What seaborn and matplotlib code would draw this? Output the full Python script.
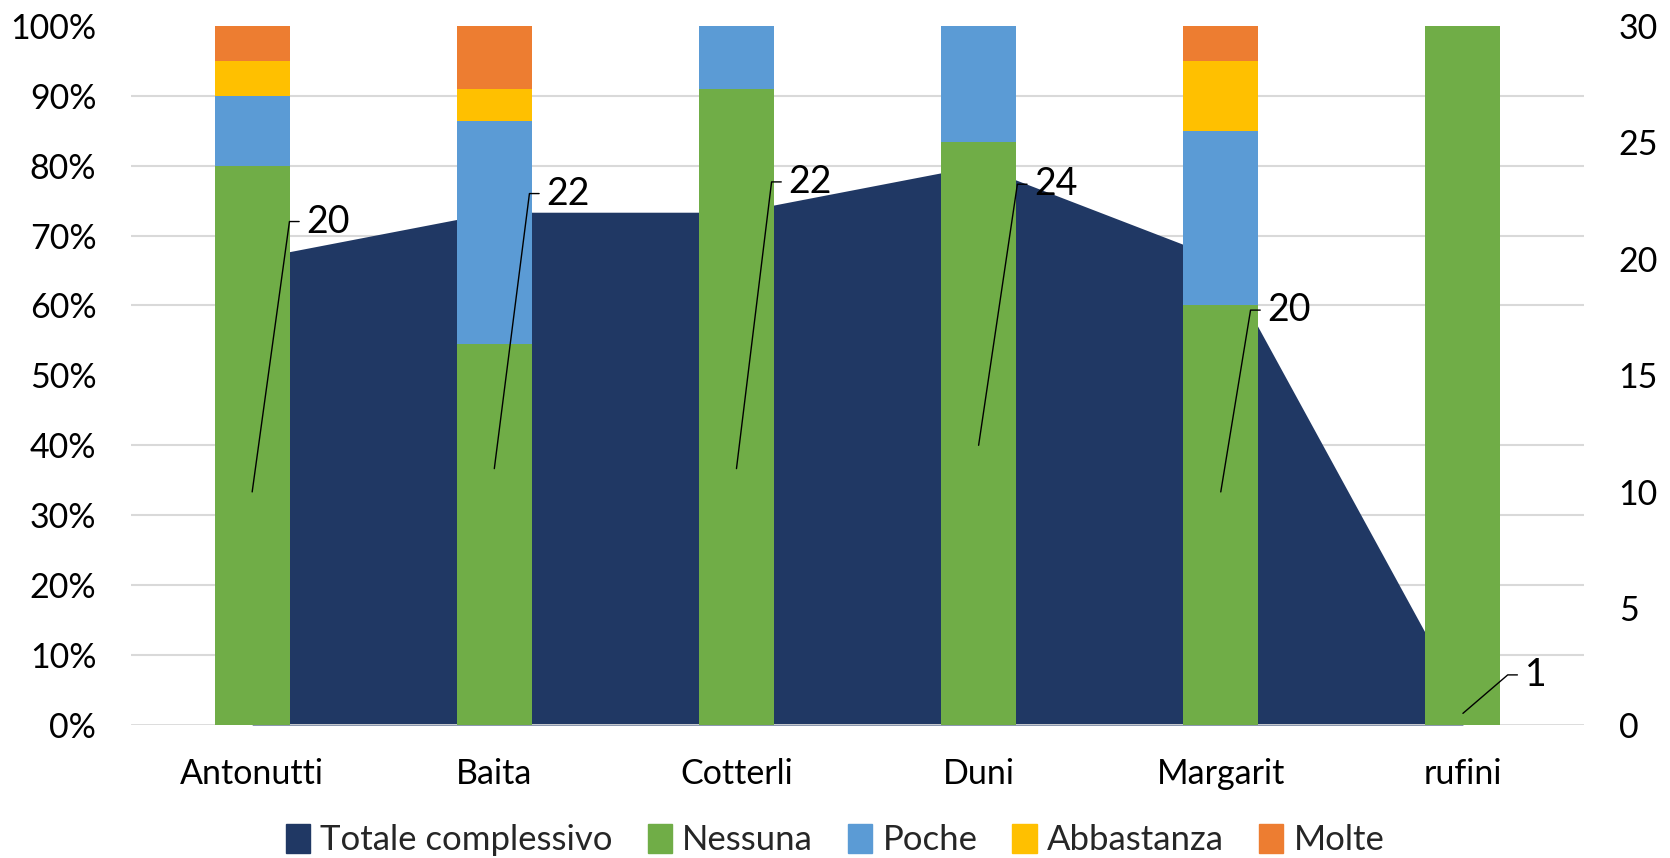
import pandas as pd
import matplotlib
matplotlib.use("Agg")
import matplotlib.pyplot as plt
from matplotlib.patches import Patch
from matplotlib.ticker import MultipleLocator, PercentFormatter
import seaborn as sns

# data (counts per risposta)
negozi = ["Antonutti", "Baita", "Cotterli", "Duni", "Margarit", "rufini"]
nessuna = [16, 12, 20, 20, 12, 1]
poche = [2, 7, 2, 4, 5, 0]
abbastanza = [1, 1, 0, 0, 2, 0]
molte = [1, 2, 0, 0, 1, 0]
totale = [20, 22, 22, 24, 20, 1]

livelli = ["Nessuna", "Poche", "Abbastanza", "Molte"]
colori = {"Nessuna": "#70AD47", "Poche": "#5B9BD5", "Abbastanza": "#FFC000", "Molte": "#ED7D31"}
navy = "#203864"

df = pd.DataFrame({"Negozio": negozi, "Nessuna": nessuna, "Poche": poche,
                   "Abbastanza": abbastanza, "Molte": molte})
quote = df[livelli].div(df[livelli].sum(axis=1), axis=0) * 100
cum = quote.cumsum(axis=1)
cum["Negozio"] = negozi

sns.set_theme(style="white")
plt.rcParams["font.family"] = ["Lato", "DejaVu Sans"]
FS = 24.5

fig = plt.figure(figsize=(16.7, 8.58), dpi=100)
ax = fig.add_axes([0.0785, 0.155, 0.87, 0.815])
ax2 = ax.twinx()
ax.set_zorder(ax2.get_zorder() + 1)
ax.patch.set_visible(False)

# area on the secondary axis (behind the bars)
ax2.fill_between(range(len(negozi)), totale, 0, color=navy, lw=0, zorder=2)
ax2.set_ylim(0, 30)
ax2.yaxis.set_major_locator(MultipleLocator(5))
ax2.yaxis.set_minor_locator(MultipleLocator(3))
ax2.grid(which="minor", color="#D9D9D9", lw=1.5, zorder=0)
ax2.grid(which="major", visible=False)
ax2.set_axisbelow(True)
ax2.tick_params(axis="y", which="both", length=0, labelsize=FS, labelcolor="black", pad=25)

# stacked 100% bars, tallest cumulative first
for liv in livelli[::-1]:
    sns.barplot(data=cum, x="Negozio", y=liv, color=colori[liv], width=0.31,
                saturation=1, linewidth=0, ax=ax, zorder=3)
ax.axhline(0, color="#D9D9D9", lw=2, zorder=2)

ax.set_ylim(0, 100)
ax.set_xlim(-0.5, len(negozi) - 0.5)
ax.yaxis.set_major_locator(MultipleLocator(10))
ax.yaxis.set_major_formatter(PercentFormatter(decimals=0))
ax.set_xlabel("")
ax.set_ylabel("")
ax.tick_params(axis="y", length=0, labelsize=FS, labelcolor="black", pad=25)
ax.tick_params(axis="x", length=0, labelsize=FS, labelcolor="black", pad=24)
for a in (ax, ax2):
    for s in a.spines.values():
        s.set_visible(False)

# data labels with leader lines (Excel style)
lab_dx = [0.154, 0.145, 0.145, 0.16, 0.123, 0.185]
lab_y = [21.6, 22.8, 23.3, 23.2, 17.8, 2.15]
for i, v in enumerate(totale):
    xe = i + lab_dx[i]
    ax.plot([i, xe, xe + 0.04], [v / 2 / 30 * 100, lab_y[i] / 30 * 100, lab_y[i] / 30 * 100],
            color="black", lw=1, zorder=5)
    ax.text(xe + 0.07, lab_y[i] / 30 * 100, str(v), ha="left", va="center",
            fontsize=FS + 2.5, color="black", zorder=6)

handles = [Patch(color=navy, label="Totale complessivo")] + \
          [Patch(color=colori[l], label=l) for l in livelli]
fig.legend(handles=handles, loc="center", bbox_to_anchor=(0.5, 0.021), ncol=5,
           frameon=False, fontsize=25, handlelength=0.7, handleheight=0.9,
           handletextpad=0.3, columnspacing=1.0)

fig.savefig("out.png", dpi=100)
